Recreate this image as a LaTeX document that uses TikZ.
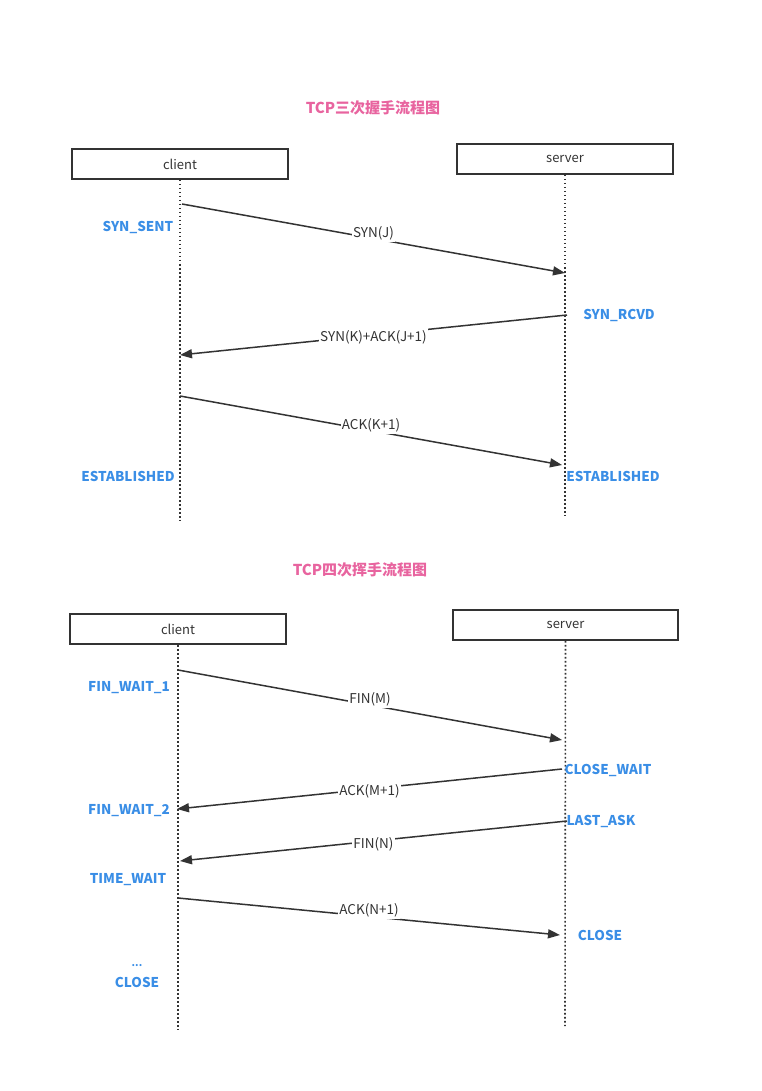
\documentclass[tikz,border=0pt]{standalone}
\usepackage{fontspec}
\setmainfont{Noto Sans CJK SC}
\usetikzlibrary{arrows.meta}
\definecolor{pinkt}{HTML}{E8649F}
\definecolor{bluel}{HTML}{3A8EE6}
\definecolor{dk}{HTML}{333333}
\tikzset{
  x=1pt,y=-1pt,
  actor/.style={draw=dk,line width=1.8pt,minimum height=30pt,inner sep=0pt,font=\fontsize{13}{15}\selectfont,text=dk},
  life/.style={draw=dk,line width=1.6pt,dash pattern=on 1.6pt off 2.4pt},
  msg/.style={draw=dk,line width=1.5pt,-{Triangle[length=12pt,width=9pt]}},
  mlabel/.style={fill=white,inner xsep=1pt,inner ysep=2pt,font=\fontsize{13.5}{15}\selectfont,text=dk},
  state/.style={font=\bfseries\fontsize{13.5}{15}\selectfont,text=bluel,inner sep=0pt},
  ttl/.style={font=\bfseries\fontsize{15}{17}\selectfont,text=pinkt},
}
\begin{document}
\begin{tikzpicture}
\useasboundingbox (0,0) rectangle (761,1091);
% ---------- top ----------
\node[ttl] (t1) at (373,108) {TCP三次握手流程图};
\node[actor,minimum width=216pt] (c1) at (180,164) {client};
\node[actor,minimum width=216pt] (s1) at (565,159) {server};
\coordinate (c1e) at (180,520);
\coordinate (s1e) at (565,515);
\draw[life] (c1.south) -- (c1e);
\draw[life] (s1.south) -- (s1e);
\coordinate (p1a) at (182,204); \coordinate (p1b) at (565,273);
\coordinate (p2a) at (567,315); \coordinate (p2b) at (180,355);
\coordinate (p3a) at (180,396); \coordinate (p3b) at (562,465);
\draw[msg] (p1a) -- node[mlabel,yshift=5.5pt] (l1) {SYN(J)} (p1b);
\draw[msg] (p2a) -- node[mlabel,yshift=-2pt] (l2) {SYN(K)+ACK(J+1)} (p2b);
\draw[msg] (p3a) -- node[mlabel,yshift=5.5pt] (l3) {ACK(K+1)} (p3b);
\node[state] (st1) at (138,227) {SYN\_SENT};
\node[state] (st2) at (619,315) {SYN\_RCVD};
\node[state] (st3) at (128,476) {ESTABLISHED};
\node[state] (st4) at (613,476) {ESTABLISHED};
% ---------- bottom ----------
\node[ttl] (t2) at (360,570) {TCP四次挥手流程图};
\node[actor,minimum width=216pt] (c2) at (178,629) {client};
\node[actor,minimum width=225pt] (s2) at (565.5,625) {server};
\coordinate (c2e) at (178,1030);
\coordinate (s2e) at (565,1026);
\draw[life] (c2.south) -- (c2e);
\draw[life] (s2.south) -- (s2e);
\coordinate (q1a) at (178,670); \coordinate (q1b) at (562,740);
\coordinate (q2a) at (562,769); \coordinate (q2b) at (177,809);
\coordinate (q3a) at (567,821); \coordinate (q3b) at (180,861);
\coordinate (q4a) at (178,898); \coordinate (q4b) at (560,935);
\draw[msg] (q1a) -- node[mlabel,yshift=6pt] (m1) {FIN(M)} (q1b);
\draw[msg] (q2a) -- node[mlabel,yshift=-2pt] (m2) {ACK(M+1)} (q2b);
\draw[msg] (q3a) -- node[mlabel,yshift=-3pt] (m3) {FIN(N)} (q3b);
\draw[msg] (q4a) -- node[mlabel,yshift=6.5pt] (m4) {ACK(N+1)} (q4b);
\node[state] (u1) at (129,688) {FIN\_WAIT\_1};
\node[state] (u2) at (608,770) {CLOSE\_WAIT};
\node[state] (u3) at (129,811) {FIN\_WAIT\_2};
\node[state] (u4) at (601,821) {LAST\_ASK};
\node[state] (u5) at (128,880) {TIME\_WAIT};
\node[state] (u6) at (600,935) {CLOSE};
\node[state,font=\bfseries\fontsize{10}{11}\selectfont] (u7) at (137,966) {...};
\node[state] (u8) at (137,982) {CLOSE};
\end{tikzpicture}
\end{document}
